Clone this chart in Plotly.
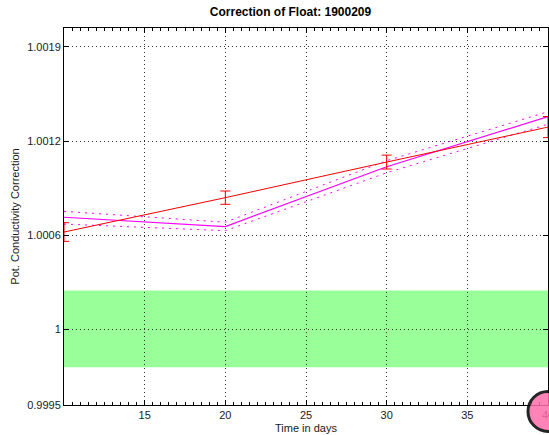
import plotly.graph_objects as go

# Time axis (days)
days = [10, 20, 30, 40]

# Fitted correction (red) with its error bars
fit_corr = [1.000647, 1.000875, 1.001111, 1.001343]
fit_err = [0.000062, 0.000044, 0.000046, 0.000070]

# Profile correction (magenta) with upper / lower bounds
prof_corr = [1.000745, 1.000683, 1.001080, 1.001412]
prof_upper = [1.000784, 1.000712, 1.001120, 1.001445]
prof_lower = [1.000700, 1.000656, 1.001040, 1.001362]

# Acceptance band around 1
band_lo, band_hi = 0.99975, 1.00026

# Y tick positions and their labels
ytick_vals = [0.9995, 1.0, 1.000625, 1.00125, 1.001875]
ytick_text = ["0.9995", "1", "1.0006", "1.0012", "1.0019"]
xtick_vals = [15, 20, 25, 30, 35, 40]

FONT = "Liberation Sans, Arial, Helvetica, sans-serif"

fig = go.Figure()

fig.add_trace(go.Scatter(x=days, y=prof_upper, mode="lines",
                         line=dict(color="#ff00ff", width=1, dash="2px,5px"),
                         showlegend=False, hoverinfo="skip"))
fig.add_trace(go.Scatter(x=days, y=prof_lower, mode="lines",
                         line=dict(color="#ff00ff", width=1, dash="2px,5px"),
                         showlegend=False, hoverinfo="skip"))
fig.add_trace(go.Scatter(x=days, y=prof_corr, mode="lines",
                         line=dict(color="#ff00ff", width=1.2),
                         showlegend=False))
fig.add_trace(go.Scatter(x=days, y=fit_corr, mode="lines",
                         line=dict(color="#ff0000", width=1),
                         error_y=dict(type="data", array=fit_err, visible=True,
                                      color="#ff0000", thickness=1, width=5),
                         showlegend=False))

# Green acceptance band
fig.add_shape(type="rect", xref="x", yref="y", x0=10, x1=40,
              y0=band_lo, y1=band_hi, fillcolor="rgb(153,255,153)",
              line=dict(width=0), layer="below")

# Pink marker at the lower right corner
fig.add_shape(type="circle", xref="paper", yref="paper",
              xsizemode="pixel", ysizemode="pixel",
              xanchor=1.0, yanchor=-0.017,
              x0=-20, x1=20, y0=-20, y1=20,
              fillcolor="rgb(255,110,170)", opacity=0.85,
              line=dict(color="black", width=3), layer="above")

axis_common = dict(
    showline=True, linecolor="black", linewidth=1, mirror="ticks",
    ticks="inside", ticklen=5, tickcolor="black",
    showgrid=True, gridcolor="#333333", gridwidth=1, griddash="1px,3px",
    zeroline=False, ticklabeloverflow="allow",
    tickfont=dict(family=FONT, size=11, color="#1a1a1a"),
)

fig.update_xaxes(range=[10, 40], tickvals=xtick_vals,
                 minor=dict(ticks="inside", dtick=0.5, ticklen=3,
                            tickcolor="black", showgrid=False),
                 title=dict(text="Time in days", standoff=4,
                            font=dict(family=FONT, size=11, color="#1a1a1a")),
                 **axis_common)
fig.update_yaxes(range=[0.9995, 1.002], tickvals=ytick_vals, ticktext=ytick_text,
                 title=dict(text="Pot. Conductivity Correction", standoff=5,
                            font=dict(family=FONT, size=11, color="#1a1a1a")),
                 **axis_common)

fig.update_layout(
    width=549, height=435,
    margin=dict(l=64, r=1, t=28, b=30, autoexpand=False),
    paper_bgcolor="white", plot_bgcolor="white",
    title=dict(text="<b>Correction of Float: 1900209</b>",
               xref="container", x=290.5 / 549, xanchor="center",
               yref="container", y=1 - 12 / 435, yanchor="middle",
               font=dict(family=FONT, size=12, color="black")),
    showlegend=False,
)

fig.write_html("out.html")
